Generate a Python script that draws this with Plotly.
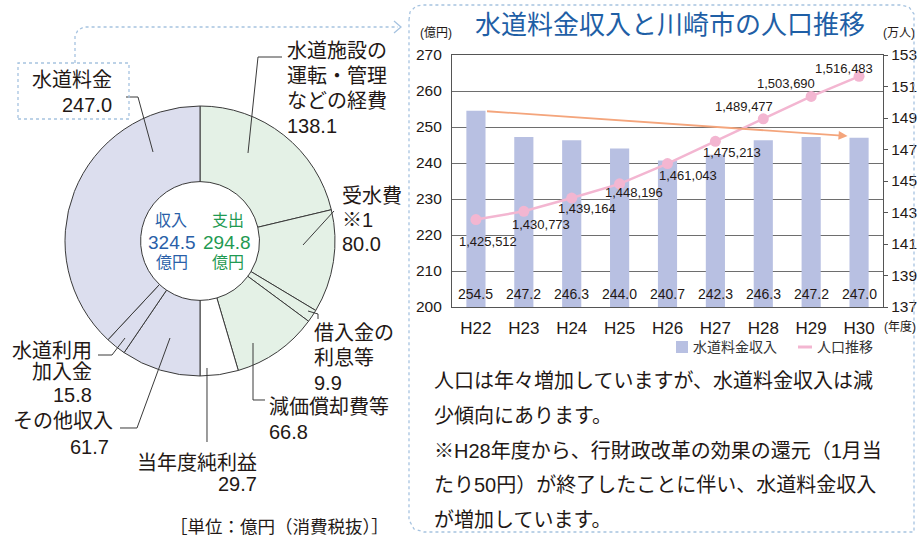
import plotly.graph_objects as go

W, H = 919, 540

# ---------------- data ----------------
years = ["H22", "H23", "H24", "H25", "H26", "H27", "H28", "H29", "H30"]
revenue = [254.5, 247.2, 246.3, 244.0, 240.7, 242.3, 246.3, 247.2, 247.0]
population = [1425512, 1430773, 1439164, 1448196, 1461043, 1475213, 1489477, 1503690, 1516483]

pie_labels = ["水道施設の運転・管理などの経費", "受水費※1", "借入金の利息等", "減価償却費等",
              "当年度純利益", "その他収入", "水道利用加入金", "水道料金"]
pie_values = [138.1, 80.0, 9.9, 66.8, 29.7, 61.7, 15.8, 247.0]

income_total = 324.5
expense_total = 294.8

# ---------------- styles ----------------
JP = "Liberation Sans, Noto Sans CJK JP, sans-serif"
TXT = "#231815"
BAR = "#b8c0e2"
PINK = "#f3b6d1"
GREEN_FILL = "#e4f1e6"
LAV_FILL = "#dcdeee"
DASH = "#a6c3e0"
BLUE = "#2a5fa8"
GREEN = "#1f9a52"

pie_colors = [GREEN_FILL, GREEN_FILL, GREEN_FILL, GREEN_FILL, "#ffffff", LAV_FILL, LAV_FILL, LAV_FILL]

pop_man = [p / 10000 for p in population]
pop_text = [f"{p:,}" for p in population]
# label offsets (pixels) relative to markers
pop_off = [(12, -22), (17, -13), (15, -10), (14, -9), (20, -12), (17, -11), (-19, 12), (-25, 13), (-15, 8)]


def X(x):
    return x / W


def Y(y):
    return 1 - y / H


def path(pts, close=False):
    s = "M " + " L ".join(f"{X(x):.5f},{Y(y):.5f}" for x, y in pts)
    return s + (" Z" if close else "")


fig = go.Figure()

# donut
cx, cy, r = 200, 241, 135
fig.add_trace(go.Pie(
    values=pie_values, labels=pie_labels, sort=False, direction="clockwise", rotation=0,
    hole=0.44, textinfo="none", hoverinfo="label+value",
    marker=dict(colors=pie_colors, line=dict(color="#3a3a3a", width=1)),
    domain=dict(x=[X(cx - r), X(cx + r)], y=[Y(cy + r), Y(cy - r)]),
    showlegend=False,
))

# bars
fig.add_trace(go.Bar(
    x=years, y=revenue, marker=dict(color=BAR, line=dict(width=0)), width=0.4,
    name="水道料金収入", showlegend=False, xaxis="x", yaxis="y",
))

# population line
fig.add_trace(go.Scatter(
    x=years, y=pop_man, mode="lines+markers", name="人口推移",
    line=dict(color=PINK, width=2.5), marker=dict(color=PINK, size=11),
    showlegend=False, xaxis="x", yaxis="y2",
))

ann = []
shapes = []

# bar value labels
for i, v in enumerate(revenue):
    ann.append(dict(x=years[i], y=200, xref="x", yref="y", text=f"{v:.1f}", showarrow=False,
                    yanchor="bottom", yshift=3, font=dict(family=JP, size=14, color=TXT)))

# population labels
for i, v in enumerate(pop_man):
    dx, dy = pop_off[i]
    ann.append(dict(x=years[i], y=v, xref="x", yref="y2", text=pop_text[i], showarrow=False,
                    xshift=dx, yshift=dy, font=dict(family=JP, size=13, color=TXT)))

# trend arrow
ann.append(dict(x=7.76, y=247.5, ax=0.2, ay=254.4, xref="x", yref="y", axref="x", ayref="y",
                text="", showarrow=True, arrowhead=2, arrowsize=1, arrowwidth=1.8,
                arrowcolor="#f4a57c", standoff=0))


def label(text, x, y, size=20, anchor="left", color=TXT, fam=JP):
    ann.append(dict(x=X(x), y=Y(y), xref="paper", yref="paper", text=text, showarrow=False,
                    xanchor=anchor, yanchor="middle", font=dict(family=fam, size=size, color=color)))


# chart titles
label("水道料金収入と川崎市の人口推移", 670, 25, size=26, anchor="center", color="#1f5fa6")
label("(億円)", 436, 33, size=12, anchor="center")
label("(万人)", 899, 33, size=12, anchor="center")
label("(年度)", 900, 327, size=12, anchor="center")

# legend (manual)
shapes.append(dict(type="rect", xref="paper", yref="paper", x0=X(676), x1=X(688), y0=Y(353), y1=Y(341),
                   fillcolor=BAR, line=dict(width=0)))
label("水道料金収入", 691, 347, size=14, anchor="left", color="#333")
shapes.append(dict(type="line", xref="paper", yref="paper", x0=X(798), x1=X(812), y0=Y(347), y1=Y(347),
                   line=dict(color=PINK, width=3)))
label("人口推移", 815, 347, size=14, anchor="left", color="#333")

# explanation text
lines = ["人口は年々増加していますが、水道料金収入は減",
         "少傾向にあります。",
         "※H28年度から、行財政改革の効果の還元（1月当",
         "たり50円）が終了したことに伴い、水道料金収入",
         "が増加しています。"]
for i, t in enumerate(lines):
    label(t, 432, 381 + i * 34.75, size=20, anchor="left")

# donut centre
label("収入", 171, 221, size=16, anchor="center", color=BLUE)
label(f"{income_total:.1f}", 172, 242, size=19, anchor="center", color=BLUE)
label("億円", 172, 262, size=16, anchor="center", color=BLUE)
label("支出", 228, 221, size=16, anchor="center", color=GREEN)
label(f"{expense_total:.1f}", 227, 242, size=19, anchor="center", color=GREEN)
label("億円", 228, 262, size=16, anchor="center", color=GREEN)

# donut labels
label("水道料金", 114, 80, anchor="right")
label(f"{pie_values[7]:.1f}", 114, 105, anchor="right")
for i, t in enumerate(["水道施設の", "運転・管理", "などの経費", f"{pie_values[0]:.1f}"]):
    label(t, 285, 51 + i * 25, anchor="left")
for i, t in enumerate(["受水費", "※1", f"{pie_values[1]:.1f}"]):
    label(t, 340, 196 + i * 24, anchor="left")
for i, t in enumerate(["借入金の", "利息等", f"{pie_values[2]:.1f}"]):
    label(t, 312, 333 + i * 25, anchor="left")
label("減価償却費等", 267, 407, anchor="left")
label(f"{pie_values[3]:.1f}", 267, 432, anchor="left")
label("当年度純利益", 259, 463, anchor="right")
label(f"{pie_values[4]:.1f}", 259, 484, anchor="right")
label("水道利用", 94, 351, anchor="right")
label("加入金", 94, 372, anchor="right")
label(f"{pie_values[6]:.1f}", 94, 395, anchor="right")
label("その他収入", 115, 421, anchor="right")
label(f"{pie_values[5]:.1f}", 111, 447, anchor="right")
label("［単位：億円（消費税抜）］", 391, 527, size=17.5, anchor="right")

# leader lines
LC = dict(color="#3a3a3a", width=1)
for pts in [
    [(126, 97), (138, 97), (153, 152)],
    [(282, 57), (258, 57), (248, 153)],
    [(334, 211), (303, 245)],
    [(308, 311), (318, 314), (318, 319)],
    [(253, 343), (253, 400), (265, 400)],
    [(207, 368), (207, 442)],
    [(98, 355), (112, 355), (125, 338)],
    [(120, 428), (137, 428), (170, 338)],
]:
    shapes.append(dict(type="path", xref="paper", yref="paper", path=path(pts), line=LC))

# dashed boxes / connector
DL = dict(color=DASH, width=1.3, dash="3px,3px")
shapes.append(dict(type="rect", xref="paper", yref="paper", x0=X(18), x1=X(129), y0=Y(119), y1=Y(63), line=DL))
shapes.append(dict(type="path", xref="paper", yref="paper",
                   path=path([(75, 63), (75, 36), (78, 30), (84, 27), (398, 27)]), line=DL))
shapes.append(dict(type="path", xref="paper", yref="paper",
                   path=path([(394, 21), (401, 27), (394, 33)]), line=dict(color=DASH, width=1.3)))
shapes.append(dict(type="path", xref="paper", yref="paper",
                   path=path([(409, 20), (410, 12), (416, 6), (424, 5), (900, 5), (909, 7), (914, 14),
                              (914, 532), (424, 532), (414, 529), (409, 520)], close=True), line=DL))

fig.update_layout(
    width=W, height=H, margin=dict(l=0, r=0, t=0, b=0),
    paper_bgcolor="white", plot_bgcolor="white",
    font=dict(family=JP, color=TXT),
    bargap=0.6,
    xaxis=dict(domain=[X(452), X(883)], range=[-0.5, 8.5], anchor="y",
               showline=True, linecolor="#555", linewidth=1.2, mirror=True,
               ticks="", ticklabelstandoff=5,
               tickfont=dict(family=JP, size=17, color=TXT), automargin=False,
               fixedrange=True),
    yaxis=dict(domain=[Y(307), Y(55)], range=[200, 270], dtick=10, anchor="x",
               showgrid=True, gridcolor="#6e6e6e", gridwidth=1, zeroline=False,
               showline=True, linecolor="#555", linewidth=1.2, ticks="",
               ticklabelstandoff=6,
               tickfont=dict(family=JP, size=15.5, color=TXT), automargin=False),
    yaxis2=dict(overlaying="y", side="right", anchor="x", range=[137, 153], tick0=137, dtick=2,
                showgrid=False, zeroline=False, showline=True, linecolor="#555", linewidth=1.2,
                ticks="outside", ticklen=4, tickcolor="#555",
                tickfont=dict(family=JP, size=15.5, color=TXT), automargin=False),
    annotations=ann, shapes=shapes,
)

fig.write_html("out.html", config={"displayModeBar": False},
               post_script="document.body.style.margin='0';document.body.style.overflow='hidden';")
